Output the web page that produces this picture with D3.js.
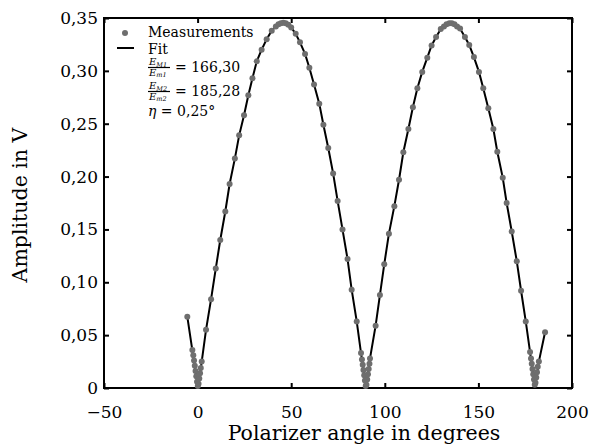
<!DOCTYPE html>
<html>
<head>
<meta charset="utf-8">
<script src="https://cdn.jsdelivr.net/npm/d3@7"></script>
<style>
  body { margin: 0; background: #fff; }
  svg text { font-family: "DejaVu Serif", serif; fill: #000; }
</style>
</head>
<body>
<script>
'use strict';

// measured points (angle in degrees, amplitude in V)
const measAngles = [
    -5.5, -2.8, -2.3, -1.9, -1.5, -1.1, -0.7, -0.3, 0.1, 0.5, 0.9, 1.3, 1.7, 2.2,
    4.5, 7.2, 9.7, 12.1, 14.8, 17.1, 19.9, 22.2, 24.8, 27.1, 29.3, 31.6, 34.2, 36.9,
    39.6, 41.8, 43.2, 44.5, 45.8, 47.1, 48.5, 50.0, 52.4, 54.7, 57.4, 59.7, 62.2,
    65.0, 67.2, 69.8, 72.4, 74.8, 77.4, 80.1, 82.3, 85.0, 87.3,
    87.8, 88.2, 88.6, 89.0, 89.4, 89.8, 90.2, 90.6, 91.0, 91.4, 91.8, 92.1,
    95.1, 97.4, 99.7, 102.2, 105.1, 107.6, 109.9, 112.6, 115.0, 117.4, 120.0, 122.7,
    125.0, 127.4, 129.9, 131.6, 133.0, 134.5, 135.8, 137.2, 138.6, 140.2, 142.8,
    145.1, 147.6, 150.3, 152.6, 155.3, 158.0, 160.1, 163.0, 165.1, 167.8, 170.5,
    172.8, 175.3, 177.6,
    178.1, 178.5, 178.9, 179.3, 179.7, 180.1, 180.5, 180.9, 181.3, 181.7, 182.3,
    185.6
];
const measValues = [
    0.0675, 0.036, 0.031, 0.026, 0.021, 0.016, 0.011, 0.006, 0.002, 0.004, 0.009, 0.014, 0.019, 0.025,
    0.055, 0.084, 0.113, 0.140, 0.167, 0.193, 0.217, 0.239, 0.258, 0.277, 0.293, 0.309, 0.320, 0.330,
    0.338, 0.342, 0.344, 0.345, 0.3455, 0.345, 0.3435, 0.341, 0.335, 0.327, 0.316, 0.303, 0.287,
    0.269, 0.249, 0.227, 0.203, 0.177, 0.150, 0.122, 0.093, 0.063, 0.033,
    0.027, 0.022, 0.017, 0.012, 0.007, 0.002, 0.003, 0.008, 0.013, 0.018, 0.023, 0.028,
    0.059, 0.088, 0.117, 0.146, 0.172, 0.197, 0.223, 0.245, 0.2655, 0.2835, 0.299, 0.3125,
    0.324, 0.332, 0.3395, 0.342, 0.344, 0.345, 0.345, 0.344, 0.342, 0.340, 0.332,
    0.3245, 0.313, 0.299, 0.2835, 0.2646, 0.245, 0.2235, 0.199, 0.175, 0.148, 0.120,
    0.092, 0.063, 0.034,
    0.028, 0.023, 0.018, 0.013, 0.008, 0.003, 0.005, 0.010, 0.015, 0.020, 0.025,
    0.0527
];

// fit curve
const fitAngles = [
    -5.5, 0.2, 2.2, 4.5, 7.2, 9.7, 12.1, 14.8, 17.1, 19.9, 22.2, 24.8, 27.1, 29.3, 31.6,
    34.2, 36.9, 39.6, 42.0, 44.0, 45.8, 47.6, 50.0, 52.4, 54.7, 57.4, 59.7, 62.2, 65.0,
    67.2, 69.8, 72.4, 74.8, 77.4, 80.1, 82.3, 85.0, 87.3, 90.0, 92.1, 95.1, 97.4, 99.7,
    102.2, 105.1, 107.6, 109.9, 112.6, 115.0, 117.4, 120.0, 122.7, 125.0, 127.4, 129.9,
    132.0, 134.0, 135.5, 137.5, 140.2, 142.8, 145.1, 147.6, 150.3, 152.6, 155.3, 158.0,
    160.1, 163.0, 165.1, 167.8, 170.5, 172.8, 175.3, 177.6, 180.2, 182.3, 185.6
];
const fitValues = [
    0.0675, 0.0, 0.025, 0.055, 0.084, 0.113, 0.140, 0.167, 0.193, 0.217, 0.239, 0.258, 0.277,
    0.293, 0.309, 0.320, 0.330, 0.338, 0.3425, 0.345, 0.3455, 0.345, 0.341, 0.335, 0.327,
    0.316, 0.303, 0.287, 0.269, 0.249, 0.227, 0.203, 0.177, 0.150, 0.122, 0.093, 0.063,
    0.033, 0.0, 0.028, 0.059, 0.088, 0.117, 0.146, 0.172, 0.197, 0.223, 0.245, 0.2655,
    0.2835, 0.299, 0.3125, 0.324, 0.332, 0.3395, 0.343, 0.345, 0.3455, 0.344, 0.340, 0.332,
    0.3245, 0.313, 0.299, 0.2835, 0.2646, 0.245, 0.2235, 0.199, 0.175, 0.148, 0.120, 0.092,
    0.063, 0.034, 0.0, 0.025, 0.0527
];

const xTicks = [-50, 0, 50, 100, 150, 200];
const yTicks = [0, 0.05, 0.10, 0.15, 0.20, 0.25, 0.30, 0.35];

const width = 589, height = 447;
const mLeft = 104, mRight = 572, mTop = 18, mBottom = 388;

const svg = d3.select('body').append('svg')
    .attr('width', width)
    .attr('height', height);

const x = d3.scaleLinear().domain([-50, 200]).range([mLeft, mRight]);
const y = d3.scaleLinear().domain([0, 0.35]).range([mBottom, mTop]);

const yFmt = v => v === 0 ? '0' : d3.format('.2f')(v).replace('.', ',');

// axes with inward ticks on all four sides
svg.append('g')
    .attr('transform', 'translate(0,' + mBottom + ')')
    .call(d3.axisBottom(x).tickValues(xTicks).tickSize(-5).tickPadding(18))
    .call(g => g.select('.domain').remove())
    .selectAll('text').attr('font-size', 17);
svg.append('g')
    .attr('transform', 'translate(0,' + mTop + ')')
    .call(d3.axisTop(x).tickValues(xTicks).tickSize(-5).tickFormat(''))
    .call(g => g.select('.domain').remove());
svg.append('g')
    .attr('transform', 'translate(' + mLeft + ',0)')
    .call(d3.axisLeft(y).tickValues(yTicks).tickSize(-5).tickPadding(6).tickFormat(yFmt))
    .call(g => g.select('.domain').remove())
    .selectAll('text').attr('font-size', 17);
svg.append('g')
    .attr('transform', 'translate(' + mRight + ',0)')
    .call(d3.axisRight(y).tickValues(yTicks).tickSize(-5).tickFormat(''))
    .call(g => g.select('.domain').remove());
svg.selectAll('.tick line').attr('stroke', '#000').attr('stroke-width', 2);
svg.selectAll('.tick text').attr('font-family', '"DejaVu Serif", serif');

// frame
svg.append('rect')
    .attr('x', mLeft).attr('y', mTop)
    .attr('width', mRight - mLeft).attr('height', mBottom - mTop)
    .attr('fill', 'none')
    .attr('stroke', '#000')
    .attr('stroke-width', 2);

// fit line
const fitData = fitAngles.map((a, i) => [a, fitValues[i]]);
svg.append('path')
    .datum(fitData)
    .attr('fill', 'none')
    .attr('stroke', '#000')
    .attr('stroke-width', 2)
    .attr('d', d3.line().x(d => x(d[0])).y(d => y(d[1])));

// measurements
const measData = measAngles.map((a, i) => [a, measValues[i]]);
svg.selectAll('.dot')
    .data(measData)
    .enter()
    .append('circle')
        .attr('class', 'dot')
        .attr('cx', d => x(d[0]))
        .attr('cy', d => y(d[1]))
        .attr('r', 3)
        .attr('fill', '#6e6e6e');

// axis titles
svg.append('text')
    .attr('x', 364).attr('y', 440)
    .attr('text-anchor', 'middle')
    .attr('font-size', 20.5)
    .text('Polarizer angle in degrees');
svg.append('text')
    .attr('transform', 'translate(27,205) rotate(-90)')
    .attr('text-anchor', 'middle')
    .attr('font-size', 20.5)
    .text('Amplitude in V');

// legend
const lg = svg.append('g');
lg.append('circle').attr('cx', 125).attr('cy', 33).attr('r', 3).attr('fill', '#6e6e6e');
lg.append('line').attr('x1', 117).attr('x2', 134).attr('y1', 48).attr('y2', 48)
    .attr('stroke', '#000').attr('stroke-width', 2);
lg.append('text').attr('x', 148).attr('y', 37).attr('font-size', 14).text('Measurements');
lg.append('text').attr('x', 148).attr('y', 54).attr('font-size', 14).text('Fit');

// fraction rows
function fraction(yBar, idx, value) {
    const num = lg.append('text').attr('x', 149).attr('y', yBar - 2.5)
        .attr('font-size', 10).attr('font-style', 'italic');
    num.append('tspan').text('E');
    num.append('tspan').attr('font-size', 6.5).attr('dy', 1.5).text('M' + idx);
    lg.append('line').attr('x1', 148).attr('x2', 170).attr('y1', yBar).attr('y2', yBar)
        .attr('stroke', '#000').attr('stroke-width', 1.2);
    const den = lg.append('text').attr('x', 149).attr('y', yBar + 8.5)
        .attr('font-size', 10).attr('font-style', 'italic');
    den.append('tspan').text('E');
    den.append('tspan').attr('font-size', 6.5).attr('dy', 1).text('m' + idx);
    lg.append('text').attr('x', 175).attr('y', yBar + 4.5).attr('font-size', 14)
        .text('= ' + value);
}
fraction(67.5, 1, '166,30');
fraction(91.5, 2, '185,28');
const eta = lg.append('text').attr('x', 148).attr('y', 116).attr('font-size', 14);
eta.append('tspan').attr('font-style', 'italic').text('η');
eta.append('tspan').text(' = 0,25°');
</script>
</body>
</html>
